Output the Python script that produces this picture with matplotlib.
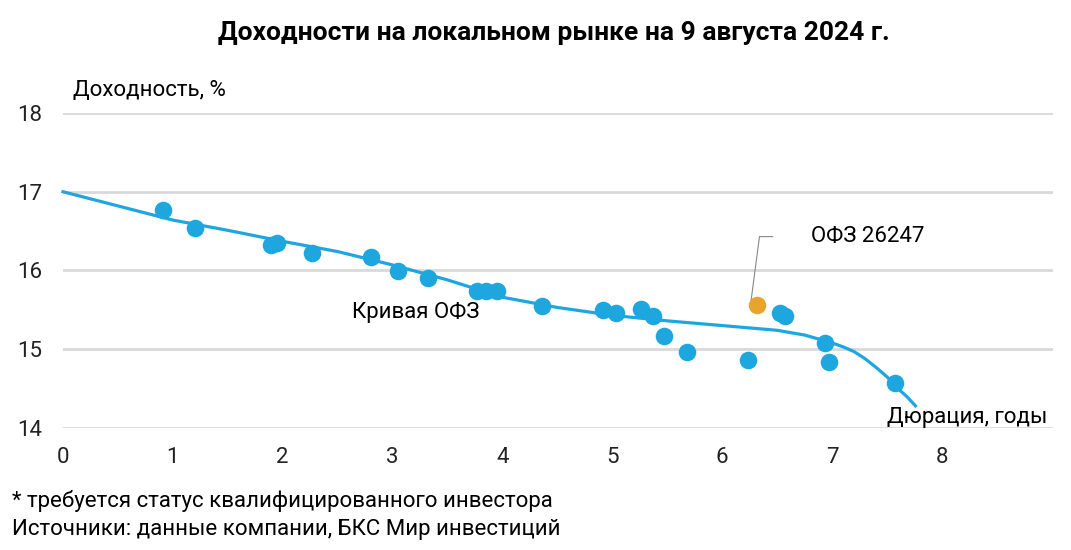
import numpy as np
import matplotlib
matplotlib.use('Agg')
import matplotlib.pyplot as plt

plt.rcParams['font.family'] = ['Roboto', 'DejaVu Sans']

# bonds: duration (years) and yield (%)
duration = [0.91, 1.20, 1.89, 1.95, 2.27, 2.80, 3.05, 3.32, 3.77, 3.85, 3.95,
            4.36, 4.92, 5.03, 5.26, 5.37, 5.47, 5.68, 6.24, 6.53, 6.57, 6.94,
            6.97, 7.57]
yields = [16.77, 16.54, 16.32, 16.35, 16.22, 16.17, 15.99, 15.90, 15.74, 15.74,
          15.74, 15.55, 15.50, 15.46, 15.51, 15.42, 15.17, 14.97, 14.86, 15.46,
          15.42, 15.08, 14.84, 14.57]

# highlighted bond
hl_name = 'ОФЗ 26247'
hl_duration = 6.32
hl_yield = 15.56

# OFZ curve
curve_x = [0.0, 0.25, 0.5, 0.75, 1.0, 1.5, 2.0, 2.5, 3.0, 3.5, 4.0, 4.5, 5.0,
           5.5, 6.0, 6.25, 6.5, 6.75, 6.9, 7.0, 7.1, 7.2, 7.3, 7.4, 7.5, 7.6,
           7.68, 7.76]
curve_y = [17.00, 16.91, 16.82, 16.73, 16.64, 16.51, 16.37, 16.24, 16.07,
           15.88, 15.66, 15.53, 15.43, 15.36, 15.30, 15.27, 15.24, 15.18,
           15.12, 15.08, 15.03, 14.97, 14.88, 14.77, 14.65, 14.50, 14.40,
           14.28]

blue = '#1ea6df'
orange = '#e9a52b'

fig = plt.figure(figsize=(10.71, 5.5), dpi=100)
ax = fig.add_axes([0.0588, 0.222, 0.9242, 0.5725])

ax.plot(curve_x, curve_y, color=blue, lw=2.3, zorder=2, clip_on=False,
        solid_joinstyle='round')
ax.scatter(duration, yields, s=160, color=blue, zorder=3, linewidths=0, clip_on=False)
ax.scatter([hl_duration], [hl_yield], s=160, color=orange, zorder=3, linewidths=0)

# leader line to the highlighted bond
ax.plot([hl_duration - 0.06, hl_duration + 0.02, hl_duration + 0.14],
        [hl_yield + 0.02, hl_yield + 0.87, hl_yield + 0.87],
        color='#888888', lw=0.8, zorder=1)
ax.text(6.81, 16.43, hl_name, fontsize=16, va='center', ha='left')
ax.text(2.63, 15.46, 'Кривая ОФЗ', fontsize=16, va='center', ha='left')
ax.text(8.96, 14.13, 'Дюрация, годы', fontsize=16, va='center', ha='right')

ax.set_xlim(0, 9.01)
ax.set_ylim(14, 18)
ax.set_xticks(range(0, 9))
ax.set_yticks(range(14, 19))
ax.grid(axis='y', color='#d9d9d9', lw=2)
ax.set_axisbelow(True)
for s in ax.spines.values():
    s.set_visible(False)
ax.tick_params(length=0, labelsize=16, colors='#222222')
ax.tick_params(axis='x', pad=14)
ax.tick_params(axis='y', pad=15)

fig.text(0.068, 0.836, 'Доходность, %', fontsize=16, va='center', ha='left')
fig.text(0.517, 0.94, 'Доходности на локальном рынке на 9 августа 2024 г.',
         fontsize=19, fontweight='bold', ha='center', va='center')
fig.text(0.011, 0.09, '* требуется статус квалифицированного инвестора',
         fontsize=16, va='center', ha='left')
fig.text(0.011, 0.037, 'Источники: данные компании, БКС Мир инвестиций',
         fontsize=16, va='center', ha='left')

fig.savefig('out.png', dpi=100)
